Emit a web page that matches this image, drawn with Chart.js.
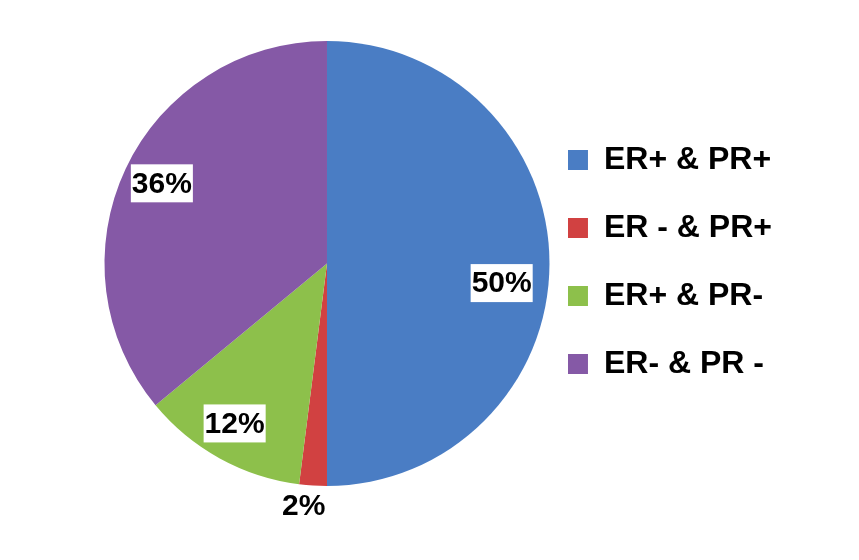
<!DOCTYPE html>
<html>
<head>
<meta charset="utf-8">
<script src="https://cdn.jsdelivr.net/npm/chart.js@4/dist/chart.umd.min.js"></script>
<style>
  html, body { margin: 0; padding: 0; background: #ffffff; }
  #wrap { width: 859px; height: 560px; }
</style>
</head>
<body>
<div id="wrap"><canvas id="c" width="859" height="560"></canvas></div>
<script>
const categories = ['ER+ & PR+', 'ER - & PR+', 'ER+ & PR-', 'ER- & PR -'];
const values = [50, 2, 12, 36];
const valueLabels = ['50%', '2%', '12%', '36%'];
const colors = ['#4A7DC4', '#D14141', '#8DC04B', '#8559A6'];

// label placement style: radial fraction and angular nudge (degrees)
const labelStyle = [
  { r: 0.79, dAngle: 6.4 },
  { r: 1.095, dAngle: 1.9 },
  { r: 0.83, dAngle: 1.2 },
  { r: 0.825, dAngle: 0.7 }
];

const sliceLabels = {
  id: 'sliceLabels',
  afterDatasetsDraw(chart) {
    const ctx = chart.ctx;
    const meta = chart.getDatasetMeta(0);
    ctx.save();
    ctx.font = 'bold 30px "Liberation Sans", Arial, sans-serif';
    ctx.textAlign = 'center';
    ctx.textBaseline = 'middle';
    meta.data.forEach((arc, i) => {
      const p = arc.getProps(['x', 'y', 'startAngle', 'endAngle', 'outerRadius'], true);
      const mid = (p.startAngle + p.endAngle) / 2 + labelStyle[i].dAngle * Math.PI / 180;
      const rr = p.outerRadius * labelStyle[i].r;
      const x = p.x + Math.cos(mid) * rr;
      const y = p.y + Math.sin(mid) * rr;
      const t = valueLabels[i];
      const w = ctx.measureText(t).width;
      ctx.fillStyle = '#ffffff';
      ctx.fillRect(x - w / 2 - 1, y - 19, w + 2, 38);
      ctx.fillStyle = '#000000';
      ctx.fillText(t, x, y + 1);
    });
    ctx.restore();
  }
};

new Chart(document.getElementById('c'), {
  type: 'pie',
  data: {
    labels: categories,
    datasets: [{
      data: values,
      backgroundColor: colors,
      borderWidth: 0
    }]
  },
  options: {
    responsive: false,
    animation: false,
    layout: { padding: { left: 104, right: 77, top: 41, bottom: 74 } },
    plugins: {
      tooltip: { enabled: false },
      legend: {
        position: 'right',
        align: 'center',
        title: { display: true, text: '', padding: 0, font: { size: 10, lineHeight: 1.5 } },
        labels: {
          boxWidth: 20,
          boxHeight: 20,
          padding: 18,
          color: '#000000',
          font: { family: '"Liberation Sans", Arial, sans-serif', size: 32, weight: 'bold', lineHeight: '50px' },
          generateLabels(chart) {
            return Chart.overrides.pie.plugins.legend.labels.generateLabels(chart)
              .map(item => Object.assign(item, { text: [item.text], lineWidth: 0 }));
          }
        }
      }
    }
  },
  plugins: [sliceLabels]
});
</script>
</body>
</html>
